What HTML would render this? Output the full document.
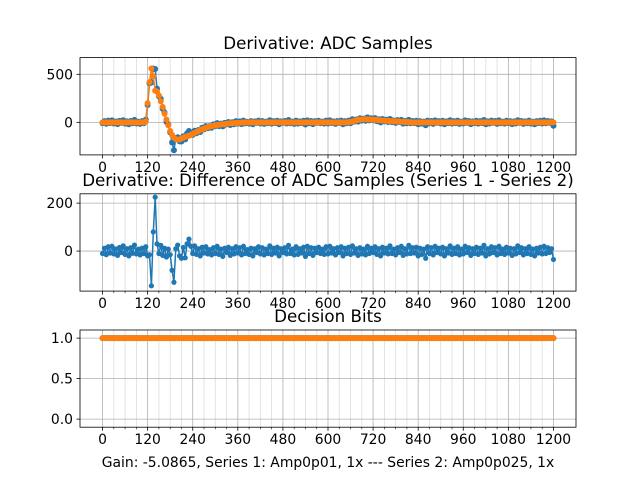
<!DOCTYPE html>
<html><head><meta charset="utf-8"><style>
body{margin:0;background:#fff}
svg{display:block;font-family:"DejaVu Sans","Liberation Sans",sans-serif}
</style></head><body>
<svg id="fig" width="640" height="480" viewBox="0 0 640 480"></svg>
<script>
const adcS2=[0,0,0,0,0,0,0,0,0,0,
0,0,0,0,0,0,0,0,0,0,
0,0,0,10,200,420,560,480,330,320,
280,220,160,90,30,-30,-90,-130,-160,-175,
-180,-178,-170,-160,-150,-145,-140,-130,-120,-110,
-100,-90,-80,-72,-65,-58,-50,-45,-40,-35,
-30,-28,-25,-22,-20,-18,-15,-12,-10,-9,
-8,-6,-5,-4,-3,-2,-1,0,0,0,
0,0,0,0,0,0,0,0,0,0,
0,0,0,0,0,0,0,0,0,0,
0,0,0,0,0,0,0,0,0,0,
0,0,0,0,0,0,0,0,0,0,
0,0,0,0,0,0,0,0,0,0,
0,2,5,10,15,20,25,28,30,31,
32,32,31,30,28,26,25,22,20,19,
18,16,15,13,12,11,10,9,8,6,
5,4,3,2,1,0,0,0,0,0,
0,0,0,0,0,0,0,0,0,0,
0,0,0,0,0,0,0,0,0,0,
0,0,0,0,0,0,0,0,0,0,
0,0,0,0,0,0,0,0,0,0,
0,0,0,0,0,0,0,0,0,0,
0,0,0,0,0,0,0,0,0,0,
0,0,0,0,0,0,0,0,0,0,
0];
const diff=[-10,12,-15,18,-8,20,-12,9,-18,15,
-6,22,-14,10,-20,14,-9,25,-12,8,
-16,12,-10,18,-20,-15,-145,80,225,30,
-10,24,-18,12,-25,8,-15,-80,-130,10,
25,-20,-30,15,-28,30,50,20,-10,22,
-14,10,-20,16,-8,18,-12,6,-16,14,
-10,20,-14,8,-22,12,-6,16,-18,10,
-12,18,-8,14,-16,20,-10,6,-14,12,
-20,10,-6,18,-12,14,-16,8,-10,22,
-14,12,-8,16,-20,10,-6,14,-12,24,
-10,8,-16,18,-14,10,-8,16,-22,20,
-10,14,-18,12,-6,16,-10,8,-14,18,
-12,20,-8,10,-16,14,-6,18,-20,12,
-10,16,-14,22,-8,10,-18,14,-12,8,
-16,20,-10,12,-6,18,-14,10,-20,16,
-8,12,-12,22,-10,8,-16,14,-6,20,
-18,10,-12,24,-10,14,-8,16,-20,12,
-14,8,-30,18,-10,14,-16,20,-6,12,
-12,16,-20,10,-8,22,-14,12,-10,18,
-16,8,-12,20,-6,14,-18,10,-10,16,
-14,12,-8,24,-20,10,-12,18,-6,14,
-16,20,-10,8,-14,16,-8,12,-18,10,
-12,22,-6,14,-16,10,-10,18,-14,8,
-20,12,-8,16,-12,20,-10,14,-6,10,
-35];
const adcS1=adcS2.map((v,i)=>v+diff[i]);
const decision1=new Array(241).fill(1);
const decision2=new Array(241).fill(1);
const sampleMax=1200;
const xTicks=[0,120,240,360,480,600,720,840,960,1080,1200];
const yTicksTop=[0,500];
const yTicksMid=[0,200];
const yTicksBot=[0.0,0.5,1.0];

const NS="http://www.w3.org/2000/svg";
const svg=document.getElementById('fig');
function mk(tag,attrs,parent){const e=document.createElementNS(NS,tag);for(const k in attrs)e.setAttribute(k,attrs[k]);(parent||svg).appendChild(e);return e;}
const L=80,R=576,X0=-60,X1=1260;
const xs=v=>L+(v-X0)/(X1-X0)*(R-L);
function axes(name,top,bot,y0,y1,yt,fmt,title,titleY){
  const g=mk('g',{});
  
  
  const ys=v=>bot-(v-y0)/(y1-y0)*(bot-top);
  for(let m=0;m<=1200;m+=30){ if(m%120===0)continue;
    const l=mk('line',{x1:xs(m),x2:xs(m),y1:top,y2:bot,stroke:'#dcdcdc','stroke-width':0.8},g);
    
    mk('line',{x1:xs(m),x2:xs(m),y1:bot,y2:bot+2,stroke:'#000','stroke-width':0.6},g);}
  xTicks.forEach(t=>{
    const l=mk('line',{x1:xs(t),x2:xs(t),y1:top,y2:bot,stroke:'#b0b0b0','stroke-width':0.8},g);
    
    mk('line',{x1:xs(t),x2:xs(t),y1:bot,y2:bot+3.5,stroke:'#000','stroke-width':0.8},g);
    const tx=mk('text',{x:xs(t),y:bot+17,'text-anchor':'middle','font-size':'13.9px'},g);tx.textContent=t;
    });
  yt.forEach(t=>{
    const l=mk('line',{x1:L,x2:R,y1:ys(t),y2:ys(t),stroke:'#b0b0b0','stroke-width':0.8},g);
    
    mk('line',{x1:L-3.5,x2:L,y1:ys(t),y2:ys(t),stroke:'#000','stroke-width':0.8},g);
    const tx=mk('text',{x:L-7,y:ys(t)+5,'text-anchor':'end','font-size':'13.9px'},g);tx.textContent=fmt(t);
    });
  const tt=mk('text',{x:(L+R)/2,y:titleY,'text-anchor':'middle','font-size':'16.7px'});tt.textContent=title;
  
  return {g,ys,top,bot};
}
function series(ax,arr,color,r,name){
  const g=mk('g',{},ax.g);
  
  
  const n=arr.length-1;
  const px=i=>xs(i*sampleMax/n);
  const pts=arr.map((v,i)=>px(i).toFixed(1)+','+ax.ys(v).toFixed(1)).join(' ');
  mk('polyline',{points:pts,fill:'none',stroke:color,'stroke-width':1.5,'stroke-linejoin':'round'},g);
  arr.forEach((v,i)=>{const c=mk('circle',{cx:px(i),cy:ax.ys(v),r:r,fill:color},g);
    });
}
function frame(ax){const f=mk('rect',{x:L,y:ax.top,width:R-L,height:ax.bot-ax.top,fill:'none',stroke:'#000','stroke-width':0.8},ax.g);
  }

const a1=axes('adc-axes',57.6,154.9,-339,674,yTicksTop,t=>t,'Derivative: ADC Samples',49);
series(a1,adcS1,'#1f77b4',3,'series-1-adc');
series(a1,adcS2,'#ff7f0e',3,'series-2-adc');
frame(a1);
const a2=axes('difference-axes',193.8,291.1,-167,239,yTicksMid,t=>t,'Derivative: Difference of ADC Samples (Series 1 - Series 2)',186);
series(a2,diff,'#1f77b4',2.6,'difference-series');
frame(a2);
const a3=axes('decision-axes',330,427.2,-0.1,1.1,yTicksBot,t=>t.toFixed(1),'Decision Bits',322);
series(a3,decision1,'#1f77b4',3,'series-1-decision');
series(a3,decision2,'#ff7f0e',3,'series-2-decision');
frame(a3);
const xl=mk('text',{x:(L+R)/2,y:467,'text-anchor':'middle','font-size':'13.9px'});
xl.textContent='Gain: -5.0865, Series 1: Amp0p01, 1x --- Series 2: Amp0p025, 1x';


</script>
</body></html>
